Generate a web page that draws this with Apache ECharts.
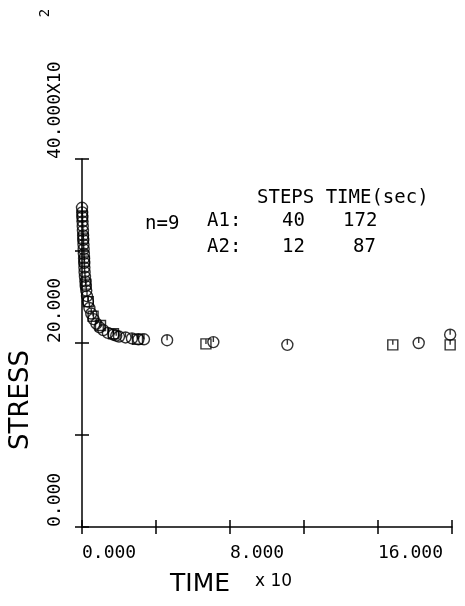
<!DOCTYPE html>
<html>
<head>
<meta charset="utf-8">
<script src="https://cdn.jsdelivr.net/npm/echarts@6/dist/echarts.min.js"></script>
<style>
  html, body { margin: 0; padding: 0; background: #fff; }
</style>
</head>
<body>
<div id="chart" style="width: 465px; height: 606px"></div>
<script>
// A1 run (circles), 40 steps
var a1Time = [0.00, 0.01, 0.02, 0.03, 0.04, 0.05, 0.06, 0.07, 0.08, 0.09,
  0.10, 0.11, 0.12, 0.13, 0.14, 0.16, 0.18, 0.20, 0.23, 0.27,
  0.32, 0.40, 0.50, 0.62, 0.78, 0.95, 1.15, 1.40, 1.70, 2.00,
  2.35, 2.70, 3.05, 3.35, 4.60, 7.10, 11.10, 18.20, 19.90, 1.85];
var a1Stress = [34.7, 34.2, 33.7, 33.2, 32.7, 32.2, 31.7, 31.2, 30.7, 30.2,
  29.7, 29.2, 28.7, 28.2, 27.7, 27.2, 26.7, 26.2, 25.7, 25.1,
  24.5, 23.8, 23.2, 22.6, 22.1, 21.7, 21.4, 21.1, 20.9, 20.7,
  20.6, 20.5, 20.4, 20.4, 20.3, 20.1, 19.8, 20.0, 20.9, 20.8];
// A2 run (squares), 12 steps
var a2Time = [0.02, 0.07, 0.13, 0.21, 0.34, 0.60, 1.00, 1.70, 3.00, 6.70, 16.80, 19.90];
var a2Stress = [33.8, 31.4, 28.9, 26.4, 24.5, 22.9, 21.9, 21.0, 20.4, 19.9, 19.8, 19.8];

var xTickLabels = { 0: "0.000", 8: "8.000", 16: "16.000" };
var yTickLabels = { 0: "0.000", 20: "20.000", 40: "40.000X10" };

function pairs(xs, ys) {
  return xs.map(function (x, i) { return [x, ys[i]]; });
}

var circleTick = "path://M0,-10 A10,10 0 1,1 0,10 A10,10 0 1,1 0,-10 M0,-10 L0,0";
var squareTick = "path://M-10,-10 L10,-10 L10,10 L-10,10 Z M0,-10 L0,0";
var mono = "DejaVu Sans Mono";

var option = {
  backgroundColor: "#fff",
  animation: false,
  grid: { left: 82, right: 13, top: 159, bottom: 79, outerBoundsMode: "none" },
  xAxis: [
    {
      type: "value", min: 0, max: 20, interval: 4,
      splitLine: { show: false },
      axisLine: { lineStyle: { color: "#000", width: 1.5 } },
      axisTick: { length: 7, lineStyle: { color: "#000", width: 1.5 } },
      axisLabel: {
        color: "#000", fontFamily: mono, fontSize: 18, margin: 17, align: "left",
        formatter: function (v) { return xTickLabels[v] || ""; }
      }
    },
    {
      type: "value", min: 0, max: 20, interval: 4, position: "bottom",
      splitLine: { show: false },
      axisLine: { show: false },
      axisTick: { inside: true, length: 7, lineStyle: { color: "#000", width: 1.5 } },
      axisLabel: { show: false }
    }
  ],
  yAxis: [
    {
      type: "value", min: 0, max: 40, interval: 10,
      splitLine: { show: false },
      axisLine: { lineStyle: { color: "#000", width: 1.5 } },
      axisTick: { length: 7, lineStyle: { color: "#000", width: 1.5 } },
      axisLabel: {
        color: "#000", fontFamily: mono, fontSize: 18, margin: 27, rotate: 90,
        align: "left", verticalAlign: "middle",
        formatter: function (v) { return yTickLabels[v] || ""; }
      }
    },
    {
      type: "value", min: 0, max: 40, interval: 10, position: "left",
      splitLine: { show: false },
      axisLine: { show: false },
      axisTick: { inside: true, length: 7, lineStyle: { color: "#000", width: 1.5 } },
      axisLabel: { show: false }
    }
  ],
  graphic: [
    { type: "text", x: 45, y: 13, rotation: Math.PI / 2, style: { text: "2", font: "14px " + mono, fill: "#000", align: "center", verticalAlign: "middle" } },
    { type: "text", x: 21, y: 400, rotation: Math.PI / 2, style: { text: "STRESS", font: "26px 'DejaVu Sans'", fill: "#000", align: "center", verticalAlign: "middle" } },
    { type: "text", x: 170, y: 584, style: { text: "TIME", font: "25px 'DejaVu Sans'", fill: "#000", verticalAlign: "middle" } },
    { type: "text", x: 255, y: 582, style: { text: "x 10", font: "17px 'DejaVu Sans'", fill: "#000", verticalAlign: "middle" } },
    { type: "text", x: 257, y: 198, style: { text: "STEPS TIME(sec)", font: "19px " + mono, fill: "#000", verticalAlign: "middle" } },
    { type: "text", x: 145, y: 224, style: { text: "n=9", font: "19px " + mono, fill: "#000", verticalAlign: "middle" } },
    { type: "text", x: 207, y: 221, style: { text: "A1:", font: "19px " + mono, fill: "#000", verticalAlign: "middle" } },
    { type: "text", x: 282, y: 221, style: { text: "40", font: "19px " + mono, fill: "#000", verticalAlign: "middle" } },
    { type: "text", x: 343, y: 221, style: { text: "172", font: "19px " + mono, fill: "#000", verticalAlign: "middle" } },
    { type: "text", x: 207, y: 247, style: { text: "A2:", font: "19px " + mono, fill: "#000", verticalAlign: "middle" } },
    { type: "text", x: 282, y: 247, style: { text: "12", font: "19px " + mono, fill: "#000", verticalAlign: "middle" } },
    { type: "text", x: 353, y: 247, style: { text: "87", font: "19px " + mono, fill: "#000", verticalAlign: "middle" } }
  ],
  series: [
    {
      name: "A1", type: "scatter", clip: false,
      symbol: circleTick, symbolSize: 11,
      itemStyle: { color: "rgba(0,0,0,0)", borderColor: "#000", borderWidth: 1.4 },
      data: pairs(a1Time, a1Stress)
    },
    {
      name: "A2", type: "scatter", clip: false,
      symbol: squareTick, symbolSize: 10,
      itemStyle: { color: "rgba(0,0,0,0)", borderColor: "#000", borderWidth: 1.4 },
      data: pairs(a2Time, a2Stress)
    }
  ]
};

var myChart = echarts.init(document.getElementById("chart"));
myChart.setOption(option);
</script>
</body>
</html>
